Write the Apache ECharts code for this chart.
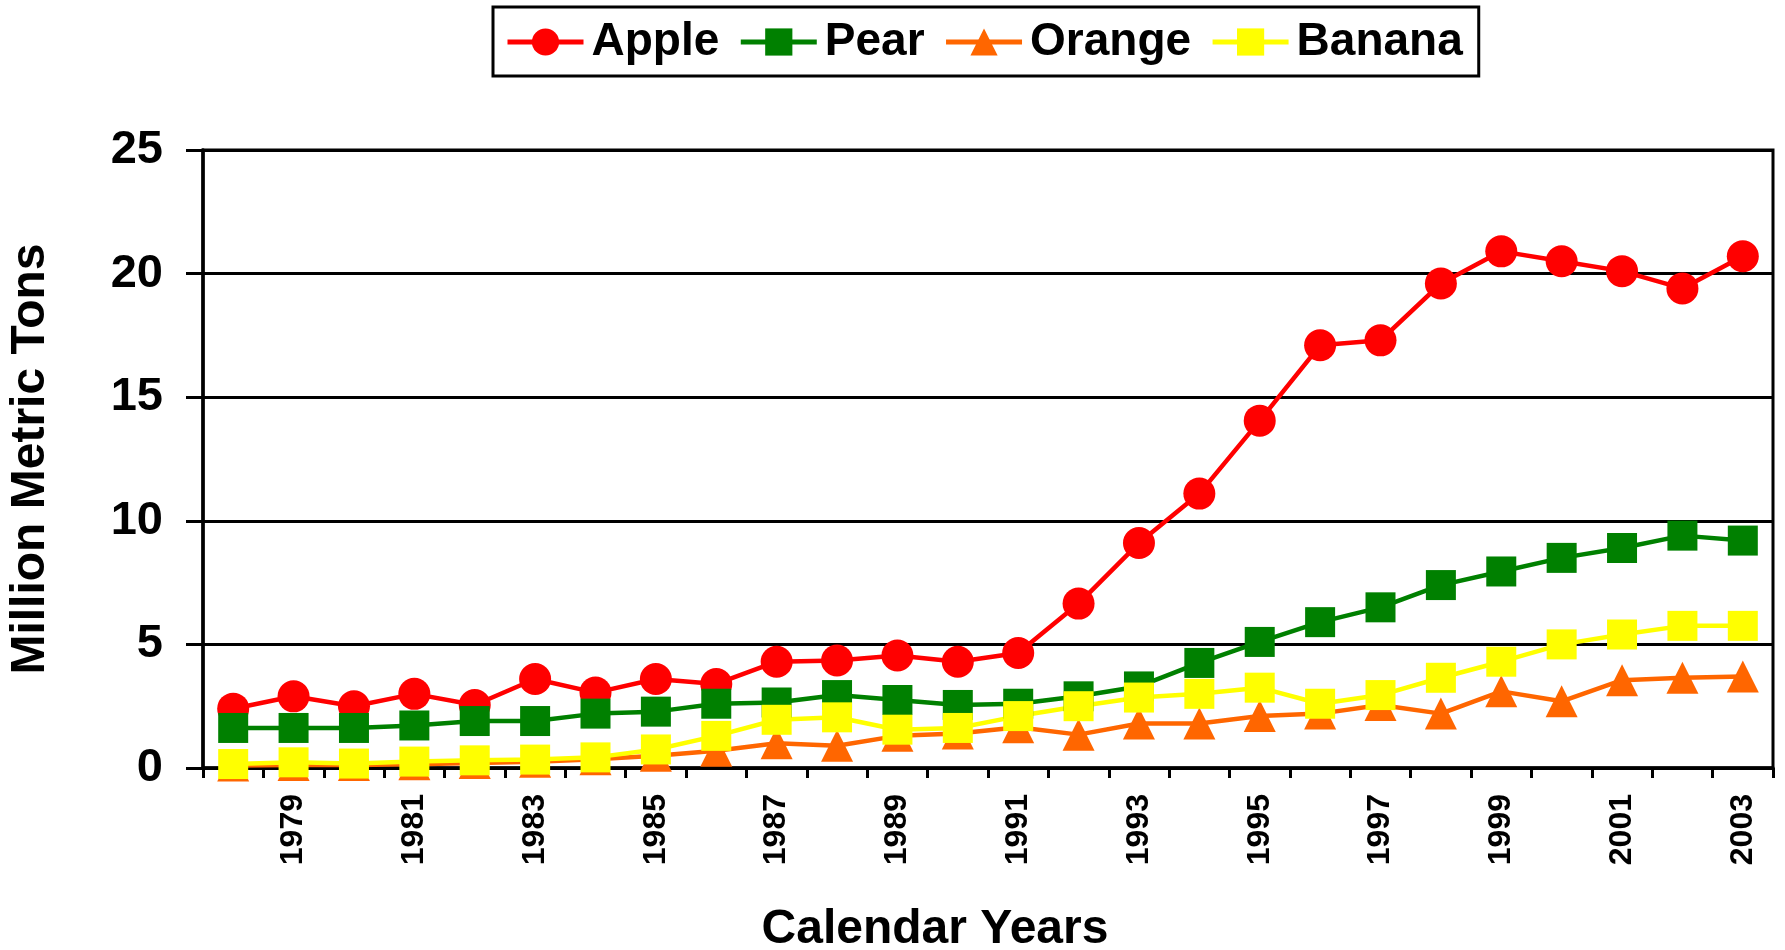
<!DOCTYPE html>
<html>
<head>
<meta charset="utf-8">
<script src="https://cdn.jsdelivr.net/npm/echarts@6/dist/echarts.min.js"></script>
<style>
html, body { margin: 0; padding: 0; background: #fff; }
#chart { width: 1785px; height: 950px; }
</style>
</head>
<body>
<div id="chart"></div>
<script>
// years on the x axis
var years = ['1978', '1979', '1980', '1981', '1982', '1983', '1984', '1985', '1986',
    '1987', '1988', '1989', '1990', '1991', '1992', '1993', '1994', '1995', '1996',
    '1997', '1998', '1999', '2000', '2001', '2002', '2003'];

// million metric tons
var apple = [2.4, 2.9, 2.5, 3.0, 2.55, 3.6, 3.05, 3.6, 3.4, 4.3, 4.35, 4.55, 4.3, 4.65,
    6.65, 9.1, 11.1, 14.05, 17.1, 17.3, 19.6, 20.9, 20.5, 20.1, 19.4, 20.7];
var pear = [1.62, 1.62, 1.62, 1.72, 1.9, 1.9, 2.2, 2.28, 2.6, 2.65, 2.95, 2.75, 2.55, 2.6,
    2.9, 3.3, 4.25, 5.1, 5.9, 6.5, 7.4, 7.95, 8.5, 8.9, 9.4, 9.2];
var orange = [0.1, 0.12, 0.12, 0.15, 0.2, 0.25, 0.35, 0.5, 0.7, 1.0, 0.9, 1.3, 1.4, 1.65,
    1.35, 1.8, 1.8, 2.1, 2.2, 2.55, 2.2, 3.1, 2.7, 3.55, 3.65, 3.7];
var banana = [0.16, 0.23, 0.18, 0.26, 0.31, 0.34, 0.43, 0.75, 1.3, 1.95, 2.05, 1.55, 1.62, 2.1,
    2.5, 2.85, 3.0, 3.25, 2.6, 2.95, 3.65, 4.3, 5.0, 5.4, 5.75, 5.75];

var font = '"Liberation Sans", Arial, sans-serif';

function makeSeries(name, data, color, symbol, size) {
    return {
        name: name,
        type: 'line',
        data: data,
        symbol: symbol,
        symbolSize: size,
        showAllSymbol: true,
        lineStyle: { color: color, width: 4.5 },
        itemStyle: { color: color },
        emphasis: { disabled: true },
        animation: false
    };
}

var myChart = echarts.init(document.getElementById('chart'));
var option = {
    backgroundColor: '#fff',
    animation: false,
    legend: {
        left: 493,
        top: 7,
        orient: 'horizontal',
        itemWidth: 76,
        itemHeight: 34,
        itemGap: 19,
        padding: [12, 16, 11, 12],
        borderColor: '#000',
        borderWidth: 3,
        lineStyle: { width: 5 },
        textStyle: {
            fontFamily: font,
            fontWeight: 'bold',
            fontSize: 46,
            color: '#000',
            padding: [4, 0, 0, 3]
        },
        data: ['Apple', 'Pear', 'Orange', 'Banana']
    },
    grid: {
        left: 203,
        right: 12,
        top: 150,
        bottom: 182,
        show: true,
        borderColor: '#000',
        borderWidth: 3,
        outerBoundsMode: 'none'
    },
    xAxis: {
        type: 'category',
        data: years,
        boundaryGap: true,
        name: 'Calendar Years',
        nameLocation: 'middle',
        nameGap: 138,
        nameTextStyle: {
            fontFamily: font,
            fontWeight: 'bold',
            fontSize: 48,
            color: '#000',
            padding: [0, 106, 0, 0]
        },
        axisLine: { lineStyle: { color: '#000', width: 3.5 } },
        axisTick: { show: true, interval: 0, length: 10, lineStyle: { color: '#000', width: 3 } },
        axisLabel: {
            interval: function (index) { return index % 2 === 1; },
            rotate: 90,
            margin: 26,
            fontFamily: font,
            fontWeight: 'bold',
            fontSize: 32,
            color: '#000'
        },
        splitLine: { show: false }
    },
    yAxis: {
        type: 'value',
        min: 0,
        max: 25,
        interval: 5,
        name: 'Million Metric Tons',
        nameLocation: 'middle',
        nameGap: 148,
        nameTextStyle: {
            fontFamily: font,
            fontWeight: 'bold',
            fontSize: 48,
            color: '#000'
        },
        axisLine: { show: true, lineStyle: { color: '#000', width: 3.5 } },
        axisTick: { show: true, length: 17, lineStyle: { color: '#000', width: 3 } },
        axisLabel: {
            margin: 40,
            fontFamily: font,
            fontWeight: 'bold',
            fontSize: 47,
            color: '#000'
        },
        splitLine: { show: true, lineStyle: { color: '#000', width: 3 } }
    },
    series: [
        makeSeries('Apple', apple, '#FF0000', 'circle', 32),
        makeSeries('Pear', pear, '#008000', 'rect', 30),
        makeSeries('Orange', orange, '#FF6600', 'triangle', 32),
        makeSeries('Banana', banana, '#FFFF00', 'rect', 30)
    ]
};

myChart.setOption(option);
</script>
</body>
</html>
